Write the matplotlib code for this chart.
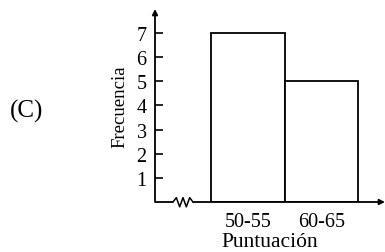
import matplotlib
matplotlib.use("Agg")
import matplotlib.pyplot as plt
import numpy as np

categories = ["50-55", "60-65"]
frequencies = [7, 5]
yticks = [1, 2, 3, 4, 5, 6, 7]

plt.rcParams['font.family'] = ['Liberation Serif', 'DejaVu Serif']

W, H = 385, 253
fig = plt.figure(figsize=(W / 100, H / 100), dpi=100)
# axes box in pixel coords: left=155, right=385, top=10, bottom=203
ax = fig.add_axes([155 / W, (H - 203) / H, (385 - 155) / W, (203 - 10) / H])
unit = 73.5
x0 = (155 - 211) / unit
x1 = (385 - 211) / unit
ax.set_xlim(x0, x1)
ax.set_ylim(0, (203 - 10) / 24.15)

xpos = np.arange(len(categories)) + 0.5
ax.bar(xpos, frequencies, width=1.0, color='white', edgecolor='black', linewidth=1.3, zorder=2)

for s in ax.spines.values():
    s.set_visible(False)

ax.set_yticks(yticks)
ax.set_yticklabels([str(v) for v in yticks], fontsize=14.5)
ax.tick_params(axis='y', direction='in', length=6, width=1.2, pad=6)
ax.set_xticks(xpos)
ax.set_xticklabels(categories, fontsize=14.5)
ax.tick_params(axis='x', length=0, pad=7)

# y axis with arrow
ax.annotate('', xy=(x0, ax.get_ylim()[1]), xytext=(x0, 0),
            arrowprops=dict(arrowstyle='-|>', color='black', lw=1.3, mutation_scale=8,
                            shrinkA=0, shrinkB=0), annotation_clip=False)
# x axis with break
zx0 = (173 - 211) / unit
zx1 = (193 - 211) / unit
zx = np.linspace(zx0, zx1, 7)
zy = np.array([0, 0.18, -0.2, 0.18, -0.2, 0.18, 0])
ax.plot([x0, zx0], [0, 0], color='black', lw=1.3, clip_on=False, solid_capstyle='butt')
ax.plot(zx, zy, color='black', lw=1.1, clip_on=False)
ax.annotate('', xy=(x1, 0), xytext=(zx1, 0),
            arrowprops=dict(arrowstyle='-|>', color='black', lw=1.3, mutation_scale=8,
                            shrinkA=0, shrinkB=0), annotation_clip=False)

ax.set_xlabel('Puntuación', fontsize=15.5, labelpad=1)
ax.set_ylabel('Frecuencia', fontsize=13.5, labelpad=6)

fig.text(27 / W, 1 - 111 / H, '(C)', fontsize=18, ha='center', va='center')

fig.savefig('out.png', dpi=100)
